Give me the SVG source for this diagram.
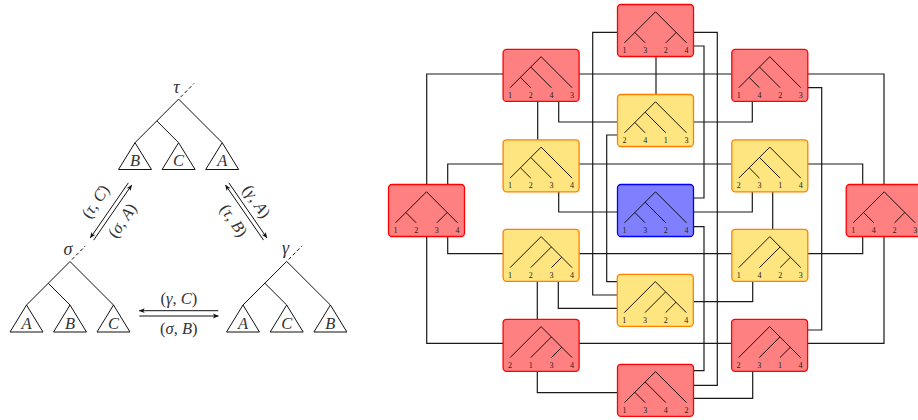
<svg xmlns="http://www.w3.org/2000/svg" xmlns:xlink="http://www.w3.org/1999/xlink" width="918" height="420" viewBox="0 0 918 420">
<style>
.red{fill:#FF8080;stroke:#FF0000;stroke-width:1.3}
.yel{fill:#FFE580;stroke:#FF8000;stroke-width:1.3}
.blu{fill:#8080FF;stroke:#0000FF;stroke-width:1.3}
.tr{fill:none;stroke:#000;stroke-width:0.9}
.lab{font-family:"Liberation Serif",serif;font-size:8px;fill:#222;text-anchor:middle}
.con{fill:none;stroke:#1a1a1a;stroke-width:1.2}
.lt{fill:none;stroke:#111;stroke-width:1}
.math{font-family:"Liberation Serif",serif;font-size:16.5px;fill:#333;text-anchor:middle}
.it{font-style:italic}
.gk{font-size:18px}
.arr{fill:none;stroke:#111;stroke-width:1;marker-end:url(#ah)}
.dash{fill:none;stroke:#111;stroke-width:1;stroke-dasharray:3.5 2.5}
</style>
<defs>
<marker id="ah" viewBox="0 0 10 10" refX="9" refY="5" markerUnits="userSpaceOnUse" markerWidth="7" markerHeight="6" orient="auto">
<path d="M0,1 L10,5 L0,9 L2.5,5 z" fill="#111"/>
</marker>
<path id="treeL" class="tr" d="M7,38.3 L38,7.3 L69,38.3 M27.67,17.63 L48.33,38.3 M17.33,27.97 L27.67,38.3"/>
<path id="treeR" class="tr" d="M7,38.3 L38,7.3 L69,38.3 M48.33,17.63 L27.67,38.3 M58.67,27.97 L48.33,38.3"/>
<path id="treeB" class="tr" d="M7,38.3 L38,7.3 L69,38.3 M17.33,27.97 L27.67,38.3 M58.67,27.97 L48.33,38.3"/>
<rect id="box" width="76" height="52" rx="3.5"/>
</defs>

<!-- Left diagram -->
<g id="tree_tau">
<path class="lt" d="M135,142.7 L178.6,99.1 L222.2,142.7 M156.8,120.9 L178.6,142.7"/>
<path class="lt" d="M135,142.7 L118.5,169.5 H151.5 Z M178.6,142.7 L162.1,169.5 H195.1 Z M222.2,142.7 L205.7,169.5 H238.7 Z"/>
<path class="dash" d="M180.5,97.2 L194,83.5"/>
<text class="math it gk" x="176.5" y="92.5">τ</text>
<text class="math it" x="135" y="166">B</text>
<text class="math it" x="178.6" y="166">C</text>
<text class="math it" x="222.2" y="166">A</text>
</g>
<g id="tree_sigma">
<path class="lt" d="M26.5,305 L70,261.5 L113.5,305 M48.25,283.25 L70,305"/>
<path class="lt" d="M26.5,305 L10,332 H43 Z M70,305 L53.5,332 H86.5 Z M113.5,305 L97,332 H130 Z"/>
<path class="dash" d="M71.9,259.6 L85.4,245.9"/>
<text class="math it gk" x="68" y="255">σ</text>
<text class="math it" x="26.5" y="329">A</text>
<text class="math it" x="70" y="329">B</text>
<text class="math it" x="113.5" y="329">C</text>
</g>
<g id="tree_gamma">
<path class="lt" d="M243,305 L286.7,261.4 L330.4,305 M264.85,283.2 L286.7,305"/>
<path class="lt" d="M243,305 L226.5,332 H259.5 Z M286.7,305 L270.2,332 H303.2 Z M330.4,305 L313.9,332 H346.9 Z"/>
<path class="dash" d="M288.6,259.5 L302.1,245.8"/>
<text class="math it gk" x="285.5" y="254">γ</text>
<text class="math it" x="243" y="329">A</text>
<text class="math it" x="286.7" y="329">C</text>
<text class="math it" x="330.4" y="329">B</text>
</g>
<g id="moves">
<path class="arr" d="M128.35,182.86 L90.35,237.86"/>
<path class="arr" d="M93.65,240.14 L131.65,185.14"/>
<path class="arr" d="M263.55,240.14 L225.55,185.14"/>
<path class="arr" d="M228.85,182.86 L266.85,237.86"/>
<path class="arr" d="M218.3,310.7 L139.3,310.7"/>
<path class="arr" d="M139.3,316 L218.3,316"/>
<text class="math" transform="translate(96.2,202) rotate(-55.4)" y="4.5">(<tspan class="it">τ</tspan>, <tspan class="it">C</tspan>)</text>
<text class="math" transform="translate(123,221) rotate(-55.4)" y="4.5">(<tspan class="it">σ</tspan>, <tspan class="it">A</tspan>)</text>
<text class="math" transform="translate(256,202) rotate(55.4)" y="4.5">(<tspan class="it">γ</tspan>, <tspan class="it">A</tspan>)</text>
<text class="math" transform="translate(233,221) rotate(55.4)" y="4.5">(<tspan class="it">τ</tspan>, <tspan class="it">B</tspan>)</text>
<text class="math" x="178.8" y="304">(<tspan class="it">γ</tspan>, <tspan class="it">C</tspan>)</text>
<text class="math" x="178.8" y="333.5">(<tspan class="it">σ</tspan>, <tspan class="it">B</tspan>)</text>
</g>

<!-- Right graph connectors -->
<g id="connectors" class="con">
<path d="M426.7,74 H884 V343.3 H426.7 Z"/>
<path d="M447.7,164 H862.7 V253.7 H447.7 Z"/>
<path d="M537.7,101.5 V140"/>
<path d="M558.7,101.5 V122 H752.3 V101.5"/>
<path d="M656,56.5 V94.5"/>
<path d="M617.5,32.3 H592.7 V295 H617"/>
<path d="M617.5,135 H606.7 V281.7 H617"/>
<path d="M693.5,32.3 H717.3 V385.3 H693.5"/>
<path d="M693.5,46 H704 V198 H693.5"/>
<path d="M693.5,226.7 H704 V370.7 H693.5"/>
<path d="M558.7,191.8 V212 H752.3 V191.8"/>
<path d="M772.7,191.8 V229.3"/>
<path d="M558.3,281.3 V308.3 H617"/>
<path d="M693.5,301.7 H752.7 V281.3"/>
<path d="M537.3,281.3 V319.3"/>
<path d="M537.3,371.3 V392.7 H617.5"/>
<path d="M693.5,398.3 H752.7 V371.3"/>
<path d="M807.8,87.7 H821.7 V330 H807.5"/>
</g>

<!-- Nodes -->
<g id="n_top" transform="translate(617.5,4.5)"><use xlink:href="#box" class="red"/><use xlink:href="#treeB"/>
<text class="lab" x="7" y="48.5">1</text><text class="lab" x="27.67" y="48.5">3</text><text class="lab" x="48.33" y="48.5">2</text><text class="lab" x="69" y="48.5">4</text></g>
<g id="n_tl" transform="translate(503.1,49.4)"><use xlink:href="#box" class="red"/><use xlink:href="#treeL"/>
<text class="lab" x="7" y="48.5">1</text><text class="lab" x="27.67" y="48.5">2</text><text class="lab" x="48.33" y="48.5">4</text><text class="lab" x="69" y="48.5">3</text></g>
<g id="n_tr" transform="translate(731.8,49.4)"><use xlink:href="#box" class="red"/><use xlink:href="#treeL"/>
<text class="lab" x="7" y="48.5">1</text><text class="lab" x="27.67" y="48.5">4</text><text class="lab" x="48.33" y="48.5">2</text><text class="lab" x="69" y="48.5">3</text></g>
<g id="n_ytop" transform="translate(617.5,94.5)"><use xlink:href="#box" class="yel"/><use xlink:href="#treeL"/>
<text class="lab" x="7" y="48.5">2</text><text class="lab" x="27.67" y="48.5">4</text><text class="lab" x="48.33" y="48.5">1</text><text class="lab" x="69" y="48.5">3</text></g>
<g id="n_yl1" transform="translate(503.1,139.8)"><use xlink:href="#box" class="yel"/><use xlink:href="#treeL"/>
<text class="lab" x="7" y="48.5">1</text><text class="lab" x="27.67" y="48.5">2</text><text class="lab" x="48.33" y="48.5">3</text><text class="lab" x="69" y="48.5">4</text></g>
<g id="n_yr1" transform="translate(731.8,139.8)"><use xlink:href="#box" class="yel"/><use xlink:href="#treeL"/>
<text class="lab" x="7" y="48.5">2</text><text class="lab" x="27.67" y="48.5">3</text><text class="lab" x="48.33" y="48.5">1</text><text class="lab" x="69" y="48.5">4</text></g>
<g id="n_rl" transform="translate(388.5,184.5)"><use xlink:href="#box" class="red"/><use xlink:href="#treeB"/>
<text class="lab" x="7" y="48.5">1</text><text class="lab" x="27.67" y="48.5">2</text><text class="lab" x="48.33" y="48.5">3</text><text class="lab" x="69" y="48.5">4</text></g>
<g id="n_blue" transform="translate(617.5,184.5)"><use xlink:href="#box" class="blu"/><use xlink:href="#treeL"/>
<text class="lab" x="7" y="48.5">1</text><text class="lab" x="27.67" y="48.5">3</text><text class="lab" x="48.33" y="48.5">2</text><text class="lab" x="69" y="48.5">4</text></g>
<g id="n_rr" transform="translate(846.2,184.5)"><use xlink:href="#box" class="red"/><use xlink:href="#treeB"/>
<text class="lab" x="7" y="48.5">1</text><text class="lab" x="27.67" y="48.5">4</text><text class="lab" x="48.33" y="48.5">2</text><text class="lab" x="69" y="48.5">3</text></g>
<g id="n_yl2" transform="translate(503.1,229.3)"><use xlink:href="#box" class="yel"/><use xlink:href="#treeR"/>
<text class="lab" x="7" y="48.5">1</text><text class="lab" x="27.67" y="48.5">2</text><text class="lab" x="48.33" y="48.5">3</text><text class="lab" x="69" y="48.5">4</text></g>
<g id="n_yr2" transform="translate(731.8,229.3)"><use xlink:href="#box" class="yel"/><use xlink:href="#treeR"/>
<text class="lab" x="7" y="48.5">1</text><text class="lab" x="27.67" y="48.5">4</text><text class="lab" x="48.33" y="48.5">2</text><text class="lab" x="69" y="48.5">3</text></g>
<g id="n_ybot" transform="translate(617.3,274.3)"><use xlink:href="#box" class="yel"/><use xlink:href="#treeR"/>
<text class="lab" x="7" y="48.5">1</text><text class="lab" x="27.67" y="48.5">3</text><text class="lab" x="48.33" y="48.5">2</text><text class="lab" x="69" y="48.5">4</text></g>
<g id="n_bl" transform="translate(503.1,319.3)"><use xlink:href="#box" class="red"/><use xlink:href="#treeR"/>
<text class="lab" x="7" y="48.5">2</text><text class="lab" x="27.67" y="48.5">1</text><text class="lab" x="48.33" y="48.5">3</text><text class="lab" x="69" y="48.5">4</text></g>
<g id="n_br" transform="translate(731.6,319.3)"><use xlink:href="#box" class="red"/><use xlink:href="#treeR"/>
<text class="lab" x="7" y="48.5">2</text><text class="lab" x="27.67" y="48.5">3</text><text class="lab" x="48.33" y="48.5">1</text><text class="lab" x="69" y="48.5">4</text></g>
<g id="n_bot" transform="translate(617.5,364.3)"><use xlink:href="#box" class="red"/><use xlink:href="#treeL"/>
<text class="lab" x="7" y="48.5">1</text><text class="lab" x="27.67" y="48.5">3</text><text class="lab" x="48.33" y="48.5">4</text><text class="lab" x="69" y="48.5">2</text></g>
</svg>
